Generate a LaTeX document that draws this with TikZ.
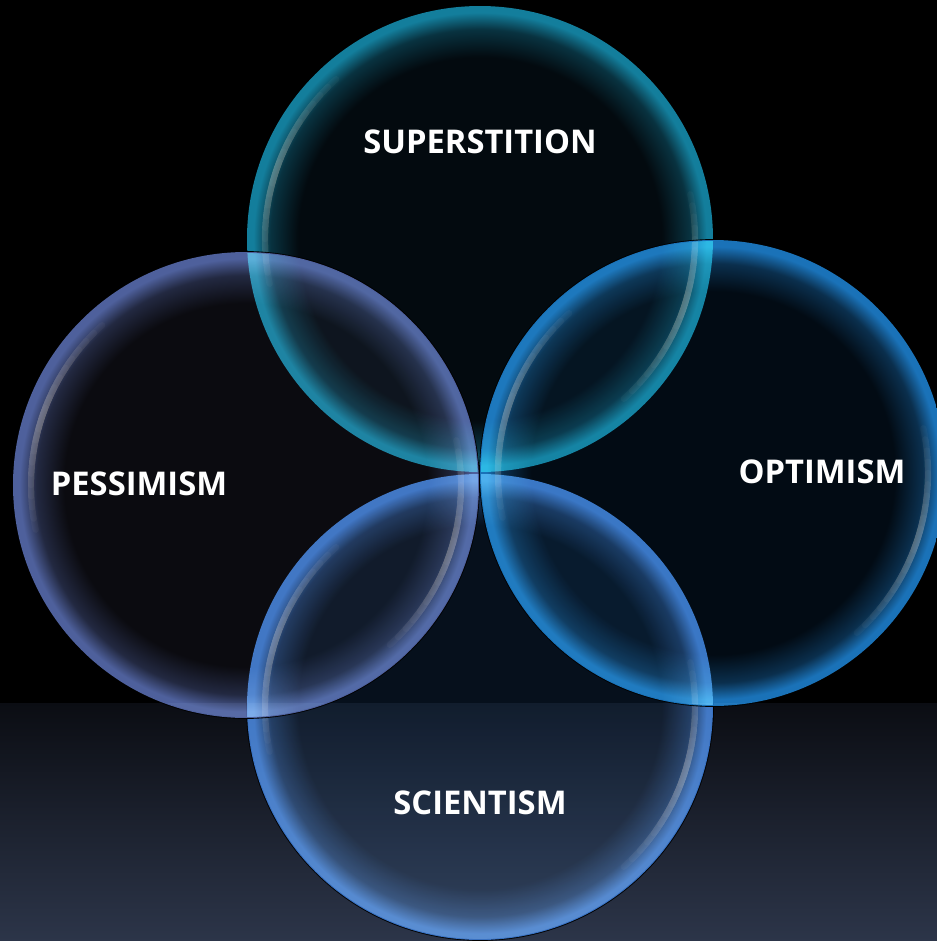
\documentclass[tikz,border=0pt]{standalone}
\usepackage{fontspec}
\setmainfont{Open Sans}

\definecolor{bgTop}{HTML}{0B0D13}
\definecolor{bgBot}{HTML}{2C3549}
\definecolor{sheenCol}{HTML}{9A8E78}
\definecolor{supIn}{HTML}{030A0F}
\definecolor{supRim}{HTML}{137E9C}
\definecolor{pesIn}{HTML}{0B0B10}
\definecolor{pesRim}{HTML}{4E609C}
\definecolor{optIn}{HTML}{020B14}
\definecolor{optRim}{HTML}{1A72B8}
\definecolor{sciIn}{HTML}{06101C}
\definecolor{sciRim}{HTML}{3870C0}

\pgfdeclareradialshading{supShade}{\pgfpoint{0bp}{0bp}}{color(0bp)=(supIn); color(19.5bp)=(supIn); color(22.5bp)=(supRim!35!supIn); color(24.3bp)=(supRim); color(25bp)=(supRim); color(50bp)=(black)}
\pgfdeclareradialshading{pesShade}{\pgfpoint{0bp}{0bp}}{color(0bp)=(pesIn); color(19.5bp)=(pesIn); color(22.5bp)=(pesRim!35!pesIn); color(24.3bp)=(pesRim); color(25bp)=(pesRim); color(50bp)=(black)}
\pgfdeclareradialshading{optShade}{\pgfpoint{0bp}{0bp}}{color(0bp)=(optIn); color(19.5bp)=(optIn); color(22.5bp)=(optRim!35!optIn); color(24.3bp)=(optRim); color(25bp)=(optRim); color(50bp)=(black)}
\pgfdeclareradialshading{sciShade}{\pgfpoint{0bp}{0bp}}{color(0bp)=(sciIn); color(19.5bp)=(sciIn); color(22.5bp)=(sciRim!35!sciIn); color(24.3bp)=(sciRim); color(25bp)=(sciRim); color(50bp)=(black)}

\tikzset{
  label text/.style={text=white, font=\bfseries\fontsize{9.3}{11}\selectfont},
  bubble edge/.style={draw=black, line width=0.5pt},
  sheen/.style={draw=sheenCol, line width=1.8pt, opacity=0.06, line cap=round},
}

\begin{document}
\begin{tikzpicture}[x=0.01cm,y=0.01cm]
  \useasboundingbox (0,0) rectangle (937,941);
  % background
  \fill[black] (0,0) rectangle (937,941);
  \shade[top color=bgTop, bottom color=bgBot] (0,0) rectangle (937,238);

  \coordinate (sup) at (480,702);
  \coordinate (pes) at (246,456);
  \coordinate (opt) at (713,468);
  \coordinate (sci) at (480,234);

  % bubbles, lightened onto what lies below
  \foreach \c in {sci,sup,pes,opt}{
    \draw[bubble edge] (\c) circle[radius=233];
    \begin{scope}[blend mode=screen]
      \shade[shading=\c Shade] (\c) circle[radius=233];
      \foreach \w in {3,6,...,30}{
        \draw[sheen] (\c) ++(162-\w:215) arc[start angle=162-\w, end angle=162+\w, radius=215];
        \draw[sheen] (\c) ++(-18-\w:215) arc[start angle=-18-\w, end angle=-18+\w, radius=215];
      }
    \end{scope}
  }

  \node[label text] (supLabel) at (480,799) {SUPERSTITION};
  \node[label text] (pesLabel) at (139,457) {PESSIMISM};
  \node[label text] (optLabel) at (822,469) {OPTIMISM};
  \node[label text] (sciLabel) at (480,138) {SCIENTISM};
\end{tikzpicture}
\end{document}
